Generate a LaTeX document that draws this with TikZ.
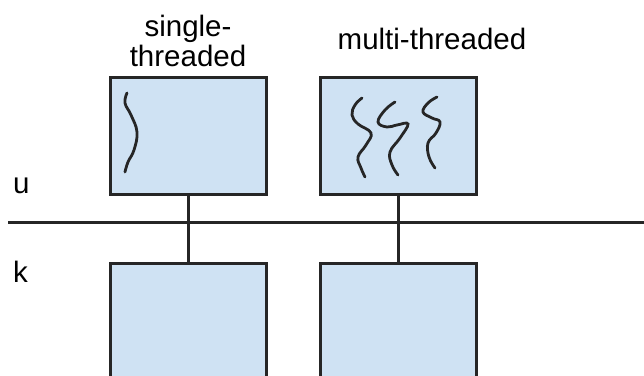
\documentclass[tikz,border=0pt]{standalone}
\usepackage{fontspec}
\setmainfont{Liberation Sans}
\usepackage{xcolor}
\usepackage{tikz}
\usetikzlibrary{positioning}
\definecolor{procbg}{HTML}{CFE2F3}

\begin{document}
\begin{tikzpicture}[
  x=1pt, y=1pt,
  node distance=65pt and 51pt,
  box/.style={draw=black!85, fill=procbg, line width=3pt, minimum width=156pt, minimum height=117pt, inner sep=0pt},
  kbox/.style={box, minimum height=130pt},
  conn/.style={line width=3pt, black!85},
  lbl/.style={font=\fontsize{29.5}{30}\selectfont, align=center, inner sep=0pt},
  thread/.style={line width=2.8pt, black!85, line cap=round},
]
  \useasboundingbox (0,0) rectangle (644,375);
  \clip (0,0) rectangle (644,375);

  % user space processes
  \node[box] (st) at (188,238.5) {};
  \node[box, right=of st] (mt) {};
  % kernel side
  \node[kbox, below=of st] (stk) {};
  \node[kbox, below=of mt] (mtk) {};

  \coordinate (bl) at (8,153);
  \coordinate (br) at (644,153);
  \draw[conn] (bl) -- (br);

  \draw[conn] (st.south) -- (stk.north);
  \draw[conn] (mt.south) -- (mtk.north);

  \node[lbl, anchor=base west] (u) at (13,182) {u};
  \node[lbl, anchor=base west] (k) at (13,93) {k};
  \node[lbl, anchor=base] (stl) at (188,308) {single-\\threaded};
  \node[lbl, anchor=base] (mtl) at (432,325) {multi-threaded};

  % threads
  \draw[thread] plot[smooth, tension=0.7] coordinates {(127,282) (125,272) (131,260) (137,243) (134,225) (128,213) (125,203)};
  \draw[thread] plot[smooth, tension=0.7] coordinates {(362,277) (355,270) (352,260) (358,251) (371,242) (366,230) (358,218) (361,207) (365,198)};
  \draw[thread] plot[smooth, tension=0.7] coordinates {(395,273) (385,265) (378,253) (387,248) (397,250) (408,251) (400,237) (390,223) (392,210) (398,200)};
  \draw[thread] plot[smooth, tension=0.7] coordinates {(437,278) (428,272) (423,263) (432,257) (440,253) (436,242) (428,232) (429,218) (435,207)};
\end{tikzpicture}
\end{document}
